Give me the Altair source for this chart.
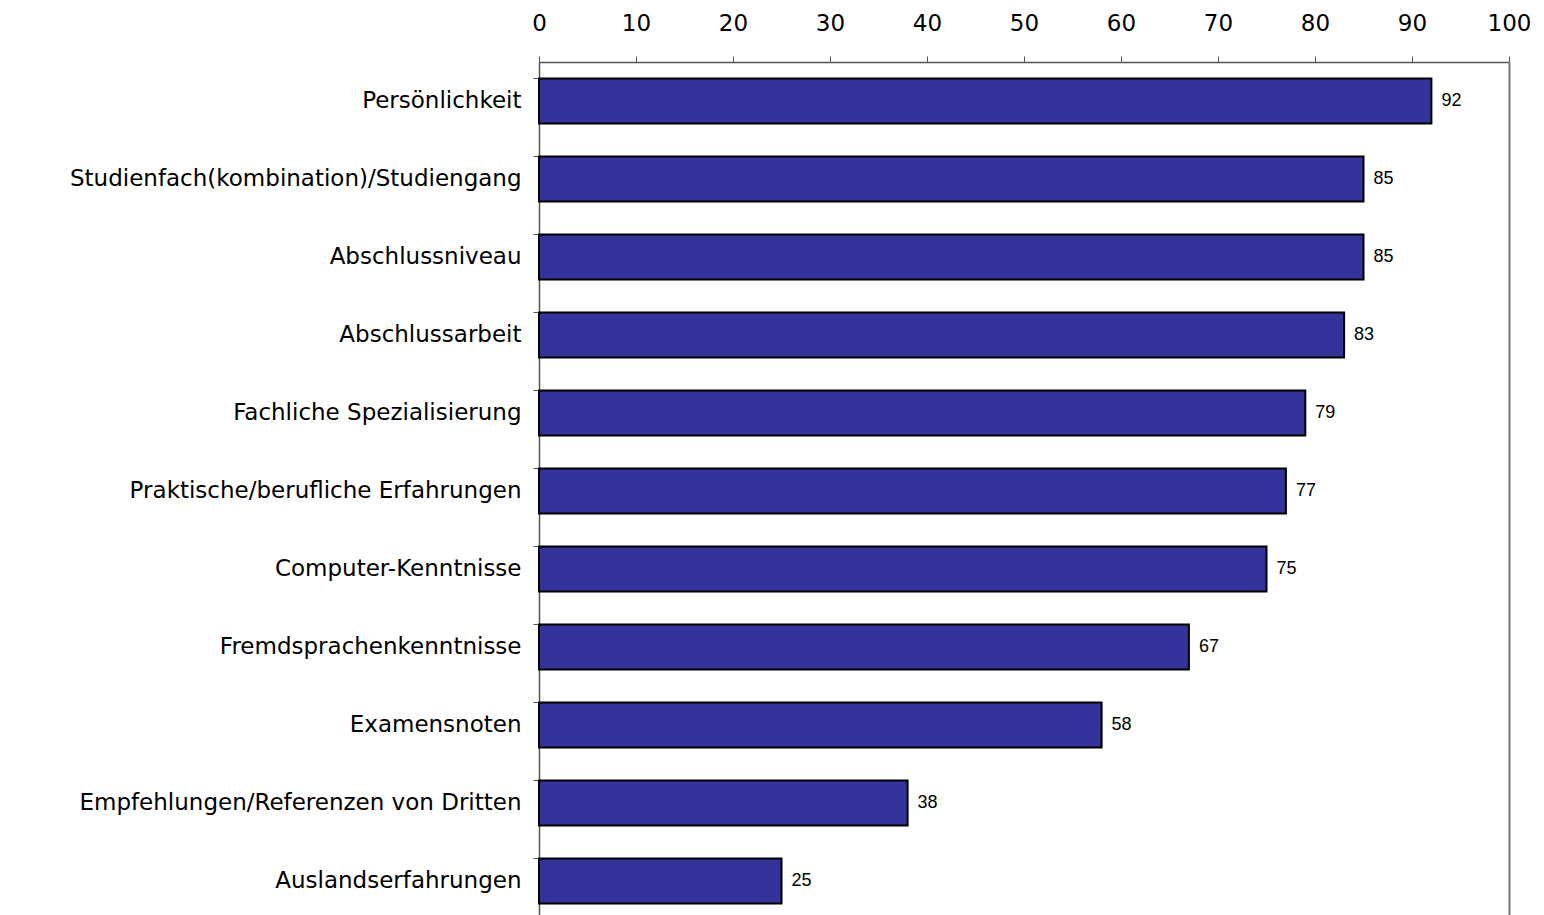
import altair as alt
import pandas as pd

categories = [
    "Persönlichkeit",
    "Studienfach(kombination)/Studiengang",
    "Abschlussniveau",
    "Abschlussarbeit",
    "Fachliche Spezialisierung",
    "Praktische/berufliche Erfahrungen",
    "Computer-Kenntnisse",
    "Fremdsprachenkenntnisse",
    "Examensnoten",
    "Empfehlungen/Referenzen von Dritten",
    "Auslandserfahrungen",
]
values = [92, 85, 85, 83, 79, 77, 75, 67, 58, 38, 25]
x_ticks = [0, 10, 20, 30, 40, 50, 60, 70, 80, 90, 100]

df = pd.DataFrame({"cat": categories, "val": values})

y_scale = alt.Scale(paddingInner=0.42, paddingOuter=0.21)

y_enc = alt.Y(
    "cat:N",
    sort=categories,
    title=None,
    scale=y_scale,
    axis=alt.Axis(
        bandPosition=0,
        ticks=True,
        tickSize=6,
        tickColor="#555555",
        domainColor="#555555",
        domainWidth=1.5,
        labelFont="DejaVu Sans",
        labelFontSize=23,
        labelColor="#000000",
        labelPadding=12,
        labelLimit=700,
    ),
)
x_enc = alt.X(
    "val:Q",
    title=None,
    scale=alt.Scale(domain=[0, 100], nice=False),
    axis=alt.Axis(
        orient="top",
        values=x_ticks,
        grid=False,
        labelFlush=False,
        tickSize=6,
        tickColor="#555555",
        domainColor="#555555",
        domainWidth=1.5,
        labelFont="DejaVu Sans",
        labelFontSize=23,
        labelColor="#000000",
        labelPadding=21,
    ),
)

bars = alt.Chart(df).mark_bar(
    color="#333399", stroke="#000000", strokeWidth=2
).encode(x=x_enc, y=y_enc)

labels = alt.Chart(df).mark_text(
    align="left", baseline="middle", dx=10, font="Liberation Sans", fontSize=18, color="#000000"
).encode(
    x="val:Q",
    y=alt.Y(
        "cat:N",
        sort=categories,
        title=None,
        scale=y_scale,
        axis=alt.Axis(
            orient="right", labels=False, ticks=False, domainColor="#777777", domainWidth=2
        ),
    ),
    text="val:Q",
)

chart = (
    alt.layer(bars, labels)
    .resolve_axis(y="independent")
    .properties(
        width=970,
        height=858,
        padding={"left": 531, "top": 54, "right": 27, "bottom": 0},
        autosize=alt.AutoSizeParams(type="none"),
    )
    .configure_view(stroke=None)
    .configure(background="white")
)

chart.save("out.html", embed_options={"renderer": "svg", "actions": False})
